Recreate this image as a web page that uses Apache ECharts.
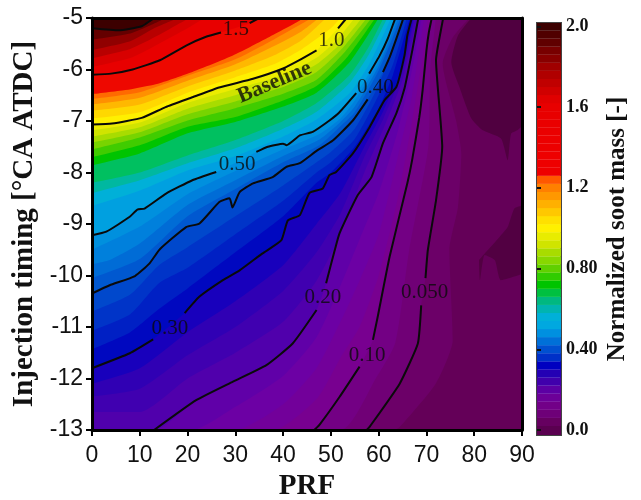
<!DOCTYPE html>
<html><head><meta charset="utf-8">
<style>html,body{margin:0;padding:0;background:#fff}#c{width:641px;height:500px;filter:blur(0.5px)}</style>
<script src="https://cdn.jsdelivr.net/npm/echarts@6/dist/echarts.min.js"></script>
</head><body><div id="c"></div>
<script>
const GAP = ['-', '-'];
const barTicks = [0, 0.4, 0.8, 1.2, 1.6, 2.0];
const barLabels = ['0.0', '0.40', '0.80', '1.2', '1.6', '2.0'];

// Labelled contours (PRF, injection timing)
const c200 = [[0,-5.2],[5.6,-5.24],[10.4,-5.16],[12.2,-5.05],[13,-5]];
const c150 = [[0,-6.1],[4,-6.08],[8.5,-6],[14.2,-5.82],[19.8,-5.53],[24,-5.36],[27,-5.28],GAP,[33,-5.1],[35,-5]];
const c100 = [[0,-7.07],[4.2,-7.05],[10.4,-6.94],[15.4,-6.73],[21,-6.54],[26.6,-6.35],[33.7,-6.18],[40,-5.98],[43.4,-5.82],[47,-5.63],GAP,[51.5,-5.2],[53.3,-5]];
const c050 = [[0,-9.22],[3,-9.15],[7.9,-8.86],[9.5,-8.72],[11,-8.7],[15.5,-8.41],[21,-8.15],[26,-7.99],GAP,[34.4,-7.6],[36.8,-7.5],[40,-7.44],[40.7,-7.47],[43.5,-7.28],[46.2,-7.21],[49.7,-6.99],[51.8,-6.83],[55.3,-6.46],GAP,[58,-6.08],[60.2,-5.73],[61.9,-5.4],[63.3,-5.05],[63.5,-5]];
const c040 = [[0,-10.35],[3.7,-10.19],[9,-10.01],[12,-9.77],[14.2,-9.49],[19.7,-9.06],[22.5,-8.99],[26.7,-8.57],[28.8,-8.5],[29.4,-8.68],[30.9,-8.38],[33.7,-8.21],[37.8,-8.09],[40.7,-7.89],[43.5,-7.82],[47,-7.58],[50.4,-7.38],[54.6,-6.99],[57.7,-6.58],GAP,[60.9,-6.05],[62.3,-5.76],[63.7,-5.4],[65,-5.05],[65.2,-5]];
const c030 = [[0,-11.8],[7.9,-11.51],[12.8,-11.24],GAP,[19.4,-10.73],[22.5,-10.41],[27.4,-10.09],[30.9,-9.9],[35.7,-9.57],[39.6,-9.32],[41,-8.93],[43.5,-8.83],[45.5,-8.4],[48.3,-8.31],[49.7,-8.05],[51.1,-7.99],[54.6,-7.63],[58.1,-7.12],[61.2,-6.6],[63.7,-6.34],[65.4,-5.73],[66,-5.34],[66.8,-5.05],[67,-5]];
const c020 = [[13,-13],[21.8,-12.42],[29.5,-12.06],[36.5,-11.74],[42,-11.32],[47,-10.67],GAP,[49,-10.15],[50.8,-9.51],[51.8,-9.18],[55.6,-8.44],[58.5,-8.09],[60.9,-7.43],[63.7,-6.85],[65.4,-6.37],[67.1,-5.6],[68.2,-5.05],[68.3,-5]];
const c010 = [[46.5,-13],[47.6,-12.9],[51.8,-12.36],[56,-11.77],GAP,[58.8,-11.25],[59.8,-10.8],[62.3,-9.63],[66,-8.21],[67,-7.76],[68.5,-6.93],[69.2,-6.4],[70,-5.63],[70.5,-5.28],[71,-5.05],[71.1,-5]];
const c005 = [[57.5,-13],[58.1,-12.94],[64.4,-12.1],[68.2,-11.32],[68.9,-10.58],GAP,[69.8,-10.05],[70.3,-9.5],[72,-8.54],[73.3,-7.5],[72,-5.82],[73.4,-5.05],[73.5,-5]];

// Colour band edges without a drawn line
const b190 = [[0,-5.42],[8,-5.3],[12,-5.15],[15.5,-5]];
const b180 = [[0,-5.62],[8,-5.45],[13,-5.2],[18,-5]];
const b170 = [[0,-5.78],[8,-5.6],[14,-5.33],[18,-5.12],[20.5,-5]];
const b160 = [[0,-5.95],[8.5,-5.76],[14,-5.5],[20,-5.2],[23.5,-5]];
const b128 = [[0,-6.48],[7,-6.4],[14,-6.27],[21,-6.05],[29.5,-5.73],[36.5,-5.4],[43.5,-5.05],[44,-5]];
const b122 = [[0,-6.57],[10,-6.44],[20,-6.12],[30,-5.8],[38,-5.42],[46,-5]];
const b116 = [[0,-6.68],[10,-6.55],[20,-6.22],[30,-5.9],[38,-5.55],[44,-5.25],[47.5,-5]];
const b110 = [[0,-6.8],[10,-6.68],[20,-6.33],[30,-6.02],[38,-5.73],[44,-5.42],[49,-5]];
const b104 = [[0,-6.95],[10,-6.83],[20,-6.45],[30,-6.15],[38,-5.9],[44,-5.6],[50,-5.2],[52,-5]];
const b095 = [[0,-7.18],[10,-7.03],[20,-6.65],[30,-6.38],[40,-6.1],[47,-5.77],[51,-5.45],[55,-5]];
const b090 = [[0,-7.3],[10,-7.12],[20,-6.76],[30,-6.5],[40,-6.22],[47,-5.9],[52,-5.5],[56.5,-5]];
const b085 = [[0,-7.42],[10,-7.22],[20,-6.87],[30,-6.62],[40,-6.34],[47,-6.05],[52.5,-5.58],[57.5,-5]];
const b080 = [[0,-7.55],[10,-7.32],[20,-6.99],[30,-6.75],[40,-6.47],[47,-6.2],[53,-5.65],[58.5,-5]];
const b075 = [[0,-7.7],[10,-7.47],[20,-7.11],[30,-6.92],[40,-6.6],[47,-6.32],[53.5,-5.75],[59.3,-5]];
const b070 = [[0,-7.86],[10,-7.63],[20,-7.24],[30,-7.02],[40,-6.72],[47,-6.45],[54,-5.85],[60,-5]];
const b065 = [[0,-8.2],[10,-8],[20,-7.67],[30,-7.37],[40,-7],[47,-6.65],[54,-6.1],[58,-5.55],[61,-5]];
const b060 = [[0,-8.4],[10,-8.15],[20,-7.82],[30,-7.53],[40,-7.15],[47,-6.82],[54,-6.25],[58,-5.7],[61.8,-5]];
const b055 = [[0,-8.65],[10,-8.35],[20,-7.96],[30,-7.68],[40,-7.3],[47,-6.97],[54,-6.45],[58,-5.9],[62.6,-5]];
const b0475 = [[0,-9.5],[10,-9.05],[20,-8.42],[30,-7.97],[40,-7.55],[47.6,-7.25],[52,-6.95],[55,-6.6],[60,-5.85],[63.7,-5]];
const b045 = [[0,-9.78],[3.7,-9.7],[10,-9.38],[20,-8.63],[30,-8.15],[40,-7.68],[47.6,-7.36],[52,-7.02],[55,-6.72],[60,-5.93],[64.1,-5]];
const b0425 = [[0,-10.05],[10,-9.68],[20,-8.85],[30,-8.32],[40,-7.8],[47.6,-7.47],[52,-7.1],[55,-6.83],[60,-6.02],[64.6,-5]];
const b0375 = [[0,-10.7],[8,-10.37],[14,-9.8],[20,-9.45],[30,-8.85],[40,-8.25],[47,-7.8],[50,-7.6],[55,-7.15],[60,-6.3],[65.5,-5]];
const b035 = [[0,-11.07],[8,-10.75],[14,-10.15],[20,-9.85],[30,-9.2],[40,-8.55],[47,-8],[50,-7.8],[55,-7.35],[60,-6.5],[63,-5.9],[65.9,-5]];
const b0325 = [[0,-11.43],[8,-11.1],[14,-10.65],[20,-10.25],[30,-9.55],[40,-8.85],[47,-8.2],[50,-8],[55,-7.5],[60,-6.75],[63,-6.1],[66.5,-5]];
const b0275 = [[0,-12.1],[10,-11.8],[20,-11.1],[30,-10.5],[40,-9.8],[47,-9],[52,-8.4],[57,-7.5],[61,-6.8],[65,-5.9],[67.3,-5]];
const b025 = [[0,-12.35],[10,-12.2],[20,-11.55],[30,-11],[40,-10.3],[47,-9.55],[52,-8.8],[57,-7.7],[61,-6.95],[65,-6.05],[67.5,-5]];
const b0225 = [[0,-12.65],[10,-12.65],[20,-12],[30,-11.5],[40,-10.9],[47,-10.1],[52,-9.2],[57,-8],[61,-7.15],[65,-6.2],[68,-5]];
const b0175 = [[21,-13],[30,-12.55],[40,-11.95],[47,-11.2],[52,-10.2],[56,-9.3],[60,-8.4],[64,-7.2],[67,-6],[69,-5]];
const b015 = [[30,-13],[40,-12.5],[47,-11.8],[52,-10.9],[56,-10.1],[60,-9.2],[64,-7.7],[67,-6.5],[69.5,-5]];
const b0125 = [[38,-13],[47,-12.4],[52,-11.6],[56,-11],[60,-10],[64,-8.5],[67,-7],[69.8,-5.4],[70.3,-5]];
const b0075 = [[52,-13],[59.4,-12],[63.5,-11.3],[66.4,-9.5],[70.4,-7.5],[70.8,-6],[72,-5]];
const b0025 = [[63,-13],[64.4,-12.94],[72,-12.09],[75.5,-11.25],[74.8,-9.5],[76.6,-8.67],[77.3,-7.63],[76.2,-6.99],[73.4,-5.88],[75.5,-5.38],[79,-5]];

// Darkest patches on the right
const patchTop = [[79.4,-5],[76.6,-5.34],[75.2,-5.86],[76.9,-6.34],[79.4,-6.95],[81.8,-7.18],[85.6,-7.34],[87,-7.76],[87.7,-7.25],[89,-7.18],[90,-7.1]];
const patchLowerEdge = [[81,-9.7],[81.2,-10.09],[82.2,-9.6],[84.3,-9.7],[85.6,-10.09],[90,-9.97]];
const patchUpperEdge = [[81,-9.7],[82.8,-9.51],[85.3,-9.25],[87,-9.06],[88.4,-8.7],[90,-8.64]];

// Colour bar: band centres and their colours
const barLevels = [0,0.04,0.08,0.12,0.16,0.2,0.24,0.28,0.32,0.36,0.4,0.44,0.48,0.52,0.56,0.6,0.64,0.68,0.72,0.76,0.8,0.84,0.88,0.92,0.96,1,1.04,1.08,1.12,1.16,1.2,1.24,1.28,1.32,1.36,1.4,1.44,1.48,1.52,1.56,1.6,1.64,1.68,1.72,1.76,1.8,1.84,1.88,1.92,1.96,2];
const barColors = ['#5a0050','#660060','#6e0078','#720088','#6c0098','#5c00a4','#4000ac','#2400b4','#0000c0','#0030c8','#0050d0','#0070d8','#0090e0','#00a8e0','#00b0d8','#00b4b0','#00b880','#00c040','#00c400','#30cc00','#60d000','#88d800','#a8dc00','#d0e400','#e8ec00','#fff000','#ffe000','#ffc800','#ffb000','#ff9800','#ff8000','#ff5800','#ee0000','#ee0000','#ee0000','#ec0000','#ec0000','#ea0000','#ea0000','#e80000','#e80000','#e00000','#d00000','#c00000','#b00000','#a00000','#880000','#780000','#600000','#500000','#3c0000'];

// Labels along the contours
const labelTexts = ['1.5','1.0','Baseline','0.50','0.40','0.30','0.20','0.10','0.050'];
const labelPrf = [30.1,50.1,38.2,30.4,59.3,16.3,48.3,57.6,69.6];
const labelTiming = [-5.22,-5.44,-6.25,-7.84,-6.35,-11.02,-10.42,-11.55,-10.33];

const fillLayers = [
  [patchLowerEdge,'#520042'],[patchUpperEdge,'#640058'],[patchTop,'#500040'],
  [b0025,'#6c0068'],[c005,'#700076'],[b0075,'#730084'],[c010,'#780090'],[b0125,'#72009a'],[b015,'#6c00a4'],[b0175,'#6000a8'],
  [c020,'#5000ac'],[b0225,'#4000b0'],[b025,'#3000b4'],[b0275,'#1800bc'],[c030,'#0008c0'],[b0325,'#0020c4'],[b035,'#0034c8'],[b0375,'#0048cc'],
  [c040,'#0058d0'],[b0425,'#006cd6'],[b045,'#0080dc'],[b0475,'#0090de'],
  [c050,'#00a0e0'],[b055,'#00b0d8'],[b060,'#00b8a0'],[b065,'#00c060'],[b070,'#00c400'],[b075,'#40cc00'],
  [b080,'#78d400'],[b085,'#a8dc00'],[b090,'#d0e400'],[b095,'#ecec00'],[c100,'#fff000'],[b104,'#ffd800'],
  [b110,'#ffb800'],[b116,'#ff9000'],[b122,'#ff6a00'],[b128,'#ee0800'],[c150,'#e80000'],[b160,'#d80000'],
  [b170,'#b80000'],[b180,'#900000'],[b190,'#640000'],[c200,'#3c0000']
];
const lineLayers = [c200,c150,c100,c050,c040,c030,c020,c010,c005];

const serif = '"Liberation Serif"', sans = '"Liberation Sans"';
const series = [];
fillLayers.forEach(([curve, color]) => {
  let pts = curve.filter(p => p !== GAP);
  if (pts[0][1] === -13 && pts[0][0] > 0) pts = [[0,-13]].concat(pts);
  series.push({type:'line', xAxisIndex:0, yAxisIndex:0, data:pts, smooth:0.2, showSymbol:false, silent:true,
    lineStyle:{width:0}, areaStyle:{color:color, opacity:1, origin:'end'}, z:2, clip:true});
});
lineLayers.forEach(curve => {
  series.push({type:'line', xAxisIndex:0, yAxisIndex:0, data:curve, smooth:0.15, showSymbol:false, silent:true,
    connectNulls:false, lineStyle:{color:'#0a0a0a', width:2}, z:5, clip:true});
});
series.push({type:'scatter', xAxisIndex:0, yAxisIndex:0, symbolSize:0, silent:true, z:6,
  data: labelTexts.map((t,i)=>({value:[labelPrf[i],labelTiming[i]], name:t,
    label: t==='Baseline' ? {show:true, position:'inside', formatter:t, rotate:23, fontFamily:serif, fontWeight:'bold', fontSize:22, color:'#0a0a0a'}
                          : {show:true, position:'inside', formatter:t, fontFamily:serif, fontSize:21, color:'#0a0a0a'}}))});
series.push({type:'custom', xAxisIndex:2, yAxisIndex:2, silent:true, z:2, clip:true,
  data: barLevels.map(v=>[0.5,v]), encode:{x:0,y:1},
  renderItem:(p,api)=>{
    const v = api.value(1), i = p.dataIndex, n = barLevels.length;
    const a = api.coord([0, v + (i===n-1 ? 0.05 : 0.0205)]), b = api.coord([1, v - (i===0 ? 0.05 : 0.0205)]);
    return {type:'rect', shape:{x:a[0],y:a[1],width:b[0]-a[0],height:b[1]-a[1]}, style:{fill:barColors[i]}};
  }});

const option = {
  animation:false, backgroundColor:'#fff',
  grid:[
    {left:92, top:18, width:430, height:412, show:true, backgroundColor:'#640058', borderWidth:0, outerBoundsMode:'none'},
    {left:537, top:23, width:24, height:412, show:true, backgroundColor:'#fff', borderColor:'#444', borderWidth:2, outerBoundsMode:'none'}
  ],
  xAxis:[
    {type:'value', gridIndex:0, min:0, max:90, interval:10, z:10, splitLine:{show:false},
      axisLine:{show:true,onZero:false,lineStyle:{color:'#000',width:3}},
      axisTick:{show:true,length:6,lineStyle:{color:'#000',width:2}},
      axisLabel:{fontFamily:sans,fontSize:23,color:'#111',margin:14,showMinLabel:true,showMaxLabel:true},
      name:'PRF', nameLocation:'middle', nameGap:42, nameTextStyle:{fontFamily:serif,fontWeight:'bold',fontSize:29,color:'#111'}},
    {type:'value', gridIndex:0, position:'top', min:0, max:90, z:10, splitLine:{show:false},
      axisLine:{show:true,onZero:false,lineStyle:{color:'#000',width:3}}, axisTick:{show:false}, axisLabel:{show:false}},
    {type:'value', gridIndex:1, min:0, max:1, show:false}
  ],
  yAxis:[
    {type:'value', gridIndex:0, min:-13, max:-5, interval:1, z:10, splitLine:{show:false},
      axisLine:{show:true,onZero:false,lineStyle:{color:'#000',width:3}},
      axisTick:{show:true,length:6,lineStyle:{color:'#000',width:2}},
      axisLabel:{fontFamily:sans,fontSize:23,color:'#111',margin:9,showMinLabel:true,showMaxLabel:true},
      name:'Injection timing [°CA ATDC]', nameLocation:'middle', nameGap:40, nameTextStyle:{fontFamily:serif,fontWeight:'bold',fontSize:29,color:'#111'}},
    {type:'value', gridIndex:0, position:'right', min:-13, max:-5, z:10, splitLine:{show:false},
      axisLine:{show:true,onZero:false,lineStyle:{color:'#000',width:3}}, axisTick:{show:false}, axisLabel:{show:false}},
    {type:'value', gridIndex:1, position:'right', min:-0.025, max:2.017, z:10, splitLine:{show:false},
      axisLine:{show:false},
      axisTick:{show:true,length:4,customValues:barTicks,lineStyle:{color:'#111',width:2}},
      axisLabel:{customValues:barTicks, margin:5, fontFamily:serif,fontWeight:'bold',fontSize:18,color:'#111',
        formatter:v=>barLabels[barTicks.indexOf(Math.round(v*10)/10)]},
      name:'Normalized soot mass [-]', nameLocation:'middle', nameGap:44, nameRotate:90,
      nameTextStyle:{fontFamily:serif,fontWeight:'bold',fontSize:25,color:'#111'}}
  ],
  series:series
};
const chart = echarts.init(document.getElementById('c'), null, {renderer:'canvas'});
chart.setOption(option);
</script></body></html>
